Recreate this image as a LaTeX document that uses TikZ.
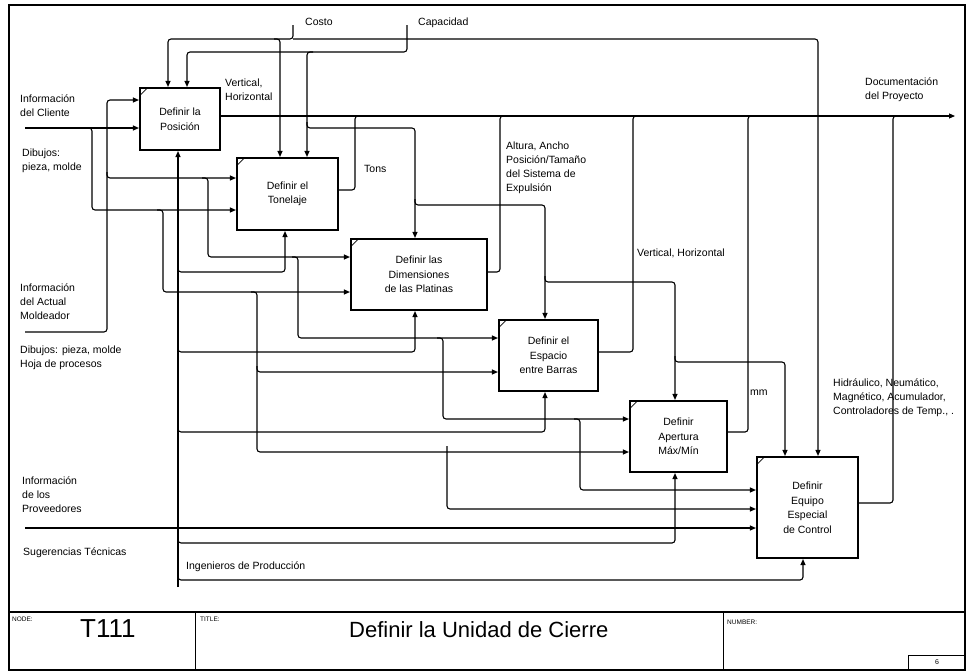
\documentclass[tikz,border=0pt]{standalone}
\usepackage{fontspec}
\setmainfont{Liberation Sans}
\usetikzlibrary{arrows.meta}
\begin{document}
\begin{tikzpicture}[x=1pt,y=-1pt,
  func/.style={draw, line width=2.1pt, align=center, inner sep=0pt,
    font=\fontsize{10.5}{14.5}\selectfont},
  ln/.style={line width=1.1pt, rounded corners=3pt},
  flow/.style={ln, -{Triangle[length=6pt,width=5pt]}},
  lbl/.style={anchor=north west, inner sep=0pt, align=left,
    font=\fontsize{10.5}{13.8}\selectfont},
  tiny/.style={anchor=north west, inner sep=0pt, font=\fontsize{6.5}{7}\selectfont}]
\useasboundingbox (0,0) rectangle (967,672);

% frame and title block
\draw[line width=1.3pt] (9,5) rectangle (965,670);
\draw[line width=1.3pt] (9,612) -- (965,612);
\draw[line width=1pt] (195,612) -- (195,670);
\draw[line width=1pt] (723,612) -- (723,670);
\draw[line width=1pt] (908,655) rectangle (965,670);
\node[tiny] (nodelbl) at (12,617) {NODE:};
\node[tiny] (titlelbl) at (200,617) {TITLE:};
\node[tiny] (numlbl) at (727,620) {NUMBER:};
\node[anchor=base west, inner sep=0pt, font=\fontsize{26}{28}\selectfont] (nodeno) at (80,637) {T111};
\node[anchor=base west, inner sep=0pt, font=\fontsize{22}{24}\selectfont] (title) at (349,637) {Definir la Unidad de Cierre};
\node[inner sep=0pt, font=\fontsize{7}{8}\selectfont] (pageno) at (937,662) {6};

% activity boxes
\node[func, minimum width=80pt, minimum height=62pt] (b1) at (180,119) {Definir la\\Posición};
\node[func, minimum width=101pt, minimum height=72pt] (b2) at (287.5,194) {Definir el\\Tonelaje};
\node[func, minimum width=136pt, minimum height=71pt] (b3) at (419,274.5) {Definir las\\Dimensiones\\de las Platinas};
\node[func, minimum width=99pt, minimum height=71pt] (b4) at (548.5,355.5) {Definir el\\Espacio\\entre Barras};
\node[func, minimum width=97pt, minimum height=71pt] (b5) at (678.5,436.5) {Definir\\Apertura\\Máx/Mín};
\node[func, minimum width=101pt, minimum height=101pt] (b6) at (807.5,507.5) {Definir\\Equipo\\Especial\\de Control};
\foreach \b in {b1,b2,b3,b4,b5,b6}
  \draw[line width=0.8pt] ([shift={(1.5pt,-8pt)}]\b.north west) -- ([shift={(8pt,-1.5pt)}]\b.north west);

% free ends
\coordinate (costo) at (293,25);
\coordinate (capac) at (407,25);
\coordinate (cli) at (25,128);
\coordinate (mol) at (25,332);
\coordinate (prov) at (25,528);
\coordinate (mech) at (178,587);
\coordinate (doc) at (955,116);

% controls: Costo
\draw[flow] (costo) |- (168,39) -- (168,0 |- b1.north);
\draw[flow] (274,39) -| (280,0 |- b2.north);
\draw[flow] (293,39) -| (818,0 |- b6.north);
% controls: Capacidad
\draw[flow] (capac) |- (187,52) -- (187,0 |- b1.north);
\draw[flow] (313,52) -| (307,0 |- b2.north);
\draw[flow] (307,122) |- (415,128) -- (415,0 |- b3.north);
\draw[flow] (415,199) |- (545,205) -- (545,0 |- b4.north);
\draw[flow] (545,276) |- (675,282) -- (675,0 |- b5.north);
\draw[flow] (675,356) |- (785,362) -- (785,0 |- b6.north);

% inputs: Cliente
\draw[flow] (cli) -- (cli -| b1.west);
\draw[flow] (86,128) -| (92,150) |- (b2.west |- 0,210);
\draw[flow] (157,210) -| (163,240) |- (b3.west |- 0,292);
\draw[flow] (251,292) -| (257,320) |- (b5.west |- 0,452);
\draw[flow] (257,366) |- (b4.west |- 0,372);
\draw[flow] (447,446) |- (b6.west |- 0,509);
% inputs: Actual Moldeador
\draw[flow] (mol) -| (107,100) -- (b1.west |- 0,100);
\draw[flow] (107,172) |- (b2.west |- 0,178);
\draw[flow] (202,178) -| (208,220) |- (b3.west |- 0,257);
\draw[flow] (292,257) -| (298,300) |- (b4.west |- 0,338);
\draw[flow] (437,338) -| (443,380) |- (b5.west |- 0,419);
\draw[flow] (574,419) -| (580,460) |- (b6.west |- 0,490);
% inputs: Proveedores
\draw[flow] (prov) -- (b6.west |- prov);

% mechanism: Ingenieros de Producción
\draw[flow] (mech) -- (178,0 |- b1.south);
\draw[flow] (178,266) |- (285,272) -- (285,0 |- b2.south);
\draw[flow] (178,346) |- (415,352) -- (415,0 |- b3.south);
\draw[flow] (178,426) |- (545,432) -- (545,0 |- b4.south);
\draw[flow] (178,537) |- (675,543) -- (675,0 |- b5.south);
\draw[flow] (178,574) |- (803,580) -- (803,0 |- b6.south);

% outputs
\draw[flow] (b1.east |- doc) -- (doc);
\draw[ln] (b2.east |- 0,190) -| (355,116) -- (361,116);
\draw[ln] (b3.east |- 0,272) -| (500,116) -- (506,116);
\draw[ln] (b4.east |- 0,352) -| (633,116) -- (639,116);
\draw[ln] (b5.east |- 0,432) -| (748,116) -- (754,116);
\draw[ln] (b6.east |- 0,503) -| (893,116) -- (899,116);

% arrow labels
\node[lbl] (lcosto) at (305,18) {Costo};
\node[lbl] (lcap) at (418,18) {Capacidad};
\node[lbl] (lcli) at (20,95) {Información\\del Cliente};
\node[lbl] (ldib1) at (22,149) {Dibujos:\\pieza, molde};
\node[lbl] (lmol) at (20,284) {Información\\del Actual\\Moldeador};
\node[lbl] (ldib2) at (20,346) {Dibujos: pieza, molde\\Hoja de procesos};
\node[lbl] (lprov) at (22,477) {Información\\de los\\Proveedores};
\node[lbl] (lsug) at (23,548) {Sugerencias Técnicas};
\node[lbl] (ling) at (186,562) {Ingenieros de Producción};
\node[lbl] (lvh1) at (225,79) {Vertical,\\Horizontal};
\node[lbl] (ltons) at (364,165) {Tons};
\node[lbl] (lalt) at (506,142) {Altura, Ancho\\Posición/Tamaño\\del Sistema de\\Expulsión};
\node[lbl] (lvh2) at (637,249) {Vertical, Horizontal};
\node[lbl] (lmm) at (750,390) {mm};
\node[lbl] (lhid) at (833,379) {Hidráulico, Neumático,\\Magnético, Acumulador,\\Controladores de Temp., .};
\node[lbl] (ldoc) at (865,78) {Documentación\\del Proyecto};
\end{tikzpicture}
\end{document}
